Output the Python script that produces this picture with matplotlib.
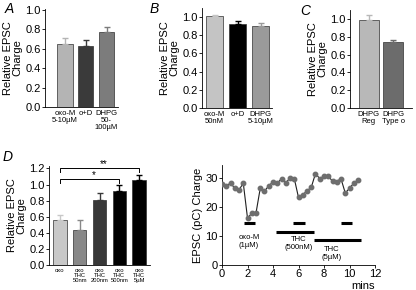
import matplotlib
matplotlib.use("Agg")
import matplotlib.pyplot as plt

plt.rcParams["font.family"] = ["Liberation Sans", "DejaVu Sans"]

W, H = 416, 290

# panel A
a_labels = ["oxo-M\n5-10µM", "o+D", "DHPG\n50-\n100µM"]
a_vals = [0.65, 0.63, 0.77]
a_err = [0.06, 0.06, 0.05]
a_cols = ["#b4b4b4", "#3a3a3a", "#7c7c7c"]

# panel B
b_labels = ["oxo-M\n50nM", "o+D", "DHPG\n5-10µM"]
b_vals = [1.01, 0.92, 0.90]
b_err = [0.01, 0.04, 0.04]
b_cols = ["#c4c4c4", "#000000", "#9a9a9a"]

# panel C
c_labels = ["DHPG\nReg", "DHPG\nType o"]
c_vals = [0.99, 0.74]
c_err = [0.05, 0.02]
c_cols = ["#b8b8b8", "#6c6c6c"]

# panel D
d_labels = ["oxo", "oxo\nTHC\n50nm", "oxo\nTHC\n200nm", "oxo\nTHC\n500nm", "oxo\nTHC\n5µM"]
d_vals = [0.56, 0.44, 0.81, 0.92, 1.05]
d_err = [0.06, 0.12, 0.08, 0.07, 0.07]
d_cols = ["#c8c8c8", "#888888", "#383838", "#000000", "#000000"]

# panel E: time course
e_t = [0.0, 0.33, 0.67, 1.0, 1.33, 1.67, 2.0, 2.33, 2.67, 3.0, 3.33, 3.67, 4.0,
       4.33, 4.67, 5.0, 5.33, 5.67, 6.0, 6.33, 6.67, 7.0, 7.33, 7.67, 8.0, 8.33,
       8.67, 9.0, 9.33, 9.67, 10.0, 10.33, 10.67]
e_q = [28.0, 27.4, 28.2, 26.5, 25.9, 28.2, 16.2, 17.8, 18.0, 26.5, 25.4, 27.4, 28.6,
       28.2, 29.8, 28.2, 30.1, 29.8, 23.3, 24.2, 25.6, 26.8, 31.5, 29.8, 30.7, 30.7,
       28.9, 28.8, 29.8, 24.8, 26.5, 28.2, 29.4]
# drug application bars: (start, end, y)
e_bars = [(1.7, 2.6, 14.5), (5.6, 6.5, 14.5), (4.2, 7.2, 11.5),
          (9.3, 10.2, 14.5), (7.2, 10.9, 8.6)]
e_text = [(2.1, 10.6, "oxo-M\n(1µM)"), (6.0, 10.0, "THC\n(500nM)"), (8.6, 6.4, "THC\n(5µM)")]


def box(l, t, r, b):
    return [l / W, 1 - b / H, (r - l) / W, (b - t) / H]


def bar_panel(ax, labels, vals, errs, cols, width, xlim, ylim, ticks, lfs):
    x = list(range(len(vals)))
    ax.bar(x, vals, width=width, color=cols, edgecolor="#303030", linewidth=0.5)
    for xi, v, e, c in zip(x, vals, errs, cols):
        ax.errorbar(xi, v, yerr=[[0], [e]], fmt="none", ecolor=c,
                    elinewidth=1.0, capthick=1.0, capsize=2.5)
    ax.set_xlim(*xlim)
    ax.set_ylim(*ylim)
    ax.set_yticks(ticks)
    ax.set_yticklabels([f"{t:.1f}" for t in ticks], fontsize=8)
    ax.set_xticks(x)
    ax.set_xticklabels(labels, fontsize=lfs, linespacing=1.0)
    ax.tick_params(axis="x", length=0, pad=2)
    ax.tick_params(axis="y", length=2, width=0.6, pad=1)
    for s in ("top", "right"):
        ax.spines[s].set_visible(False)
    for s in ("left", "bottom"):
        ax.spines[s].set_linewidth(0.6)
    ax.set_ylabel("Relative EPSC\nCharge", fontsize=8, linespacing=1.0, labelpad=2)


fig = plt.figure(figsize=(W / 100, H / 100), dpi=100)

axA = fig.add_axes(box(45, 9, 118, 107))
bar_panel(axA, a_labels, a_vals, a_err, a_cols, 0.75, (-0.95, 2.55), (0, 1.01),
          [0.0, 0.2, 0.4, 0.6, 0.8, 1.0], 5.5)

axB = fig.add_axes(box(202, 8, 272, 108))
bar_panel(axB, b_labels, b_vals, b_err, b_cols, 0.76, (-0.55, 2.5), (0, 1.1),
          [0.0, 0.2, 0.4, 0.6, 0.8, 1.0], 5.5)

axC = fig.add_axes(box(350, 10, 412, 108))
bar_panel(axC, c_labels, c_vals, c_err, c_cols, 0.8, (-0.75, 1.75), (0, 1.1),
          [0.0, 0.2, 0.4, 0.6, 0.8, 1.0], 5.5)

axD = fig.add_axes(box(49, 166, 150, 265))
bar_panel(axD, d_labels, d_vals, d_err, d_cols, 0.67, (-0.55, 4.55), (0, 1.23),
          [0.0, 0.2, 0.4, 0.6, 0.8, 1.0, 1.2], 4.2)
# significance brackets
axD.plot([0, 0, 4, 4], [1.15, 1.2, 1.2, 1.15], color="black", lw=0.7)
axD.text(2.2, 1.19, "**", ha="center", va="bottom", fontsize=7)
axD.plot([0, 0, 3, 3], [1.02, 1.07, 1.07, 1.02], color="black", lw=0.7)
axD.text(1.7, 1.06, "*", ha="center", va="bottom", fontsize=7)

axE = fig.add_axes(box(222, 165, 375, 265))
axE.plot(e_t, e_q, color="#202020", lw=0.8, marker="o", ms=3.2,
         markerfacecolor="#6e6e6e", markeredgecolor="#6e6e6e", zorder=3)
for x0, x1, y in e_bars:
    axE.plot([x0, x1], [y, y], color="black", lw=2.2, solid_capstyle="butt")
for x, y, s in e_text:
    axE.text(x, y, s, ha="center", va="top", fontsize=5.5, linespacing=1.1)
axE.set_xlim(0, 12)
axE.set_ylim(0, 34.5)
axE.set_xticks([0, 2, 4, 6, 8, 10, 12])
axE.set_yticks([0, 10, 20, 30])
axE.tick_params(labelsize=8, length=2, width=0.6, pad=1)
for s in ("top", "right"):
    axE.spines[s].set_visible(False)
for s in ("left", "bottom"):
    axE.spines[s].set_linewidth(0.6)
axE.set_ylabel("EPSC (pC) Charge", fontsize=8, labelpad=2)
axE.text(12, -5.5, "mins", ha="right", va="top", fontsize=8)

# panel letters
for x, y, s in [(5, 2, "A"), (150, 2, "B"), (300, 4, "C"), (3, 150, "D")]:
    fig.text(x / W, 1 - y / H, s, fontsize=10, style="italic", va="top")

fig.savefig("out.png", dpi=100)
